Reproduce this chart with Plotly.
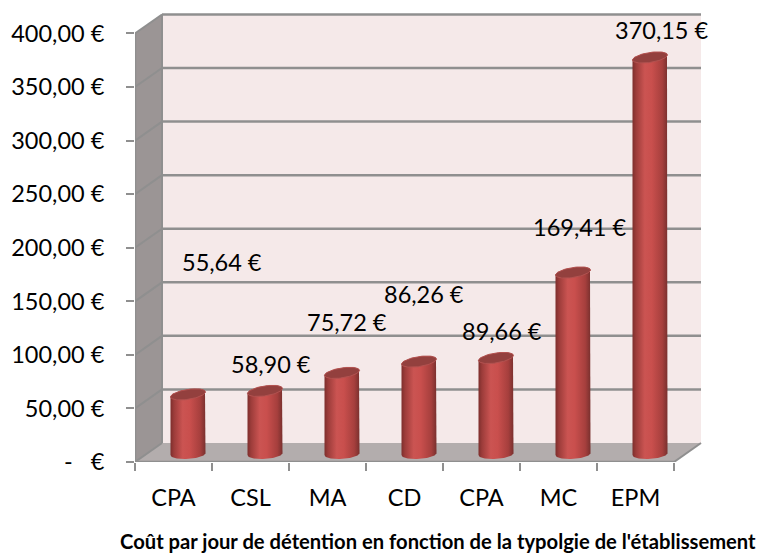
import numpy as np
import plotly.graph_objects as go

categories = ["CPA", "CSL", "MA", "CD", "CPA", "MC", "EPM"]
values = [55.64, 58.90, 75.72, 86.26, 89.66, 169.41, 370.15]
y_ticks = [0, 50, 100, 150, 200, 250, 300, 350, 400]
y_tick_labels = ["-\u00a0\u00a0\u00a0€", "50,00 €", "100,00 €", "150,00 €", "200,00 €",
                 "250,00 €", "300,00 €", "350,00 €", "400,00 €"]
title_text = "Coût par jour de détention en fonction de la typolgie de l'établissement"
# label centres, page pixels
label_px = [(222, 262), (271, 364), (347, 322), (424, 294), (502, 331), (580, 227), (662, 30)]

W, H = 758, 553
LEFT, RIGHT_PX, TOP, BOTTOM_PX = 135, 703, 10, 462
PX_X = 77.0          # pixels per category
PX_Y = 1.0713        # pixels per euro
GRID = "#8f8f8f"
FONT = "Lato"
FS = 23.5

dx = 27 / PX_X       # depth of the 3D box, in axis units
dy = 19 / PX_Y

x0 = -0.5
x1 = x0 + (RIGHT_PX - LEFT) / PX_X
y1 = (BOTTOM_PX - TOP) / PX_Y
n = len(categories)
xf = x0 + n


def poly(pts):
    return "M " + " L ".join(f"{a},{b}" for a, b in pts) + " Z"


def shape_line(a, b, c, d, width=2.5, color=GRID):
    return dict(type="line", xref="x", yref="y", x0=a, y0=b, x1=c, y1=d,
                line=dict(color=color, width=width), layer="below")


def shape_poly(pts, fill):
    return dict(type="path", xref="x", yref="y", path=poly(pts), fillcolor=fill,
                line=dict(width=0), layer="below")


shapes = [
    shape_poly([(x0 + dx, dy), (x0 + dx, 400 + dy), (xf + dx, 400 + dy), (xf + dx, dy)], "#f5e9e9"),
    shape_poly([(x0, 0), (x0, 400), (x0 + dx, 400 + dy), (x0 + dx, dy)], "#9b9595"),
    shape_poly([(x0, 0), (x0 + dx, dy), (xf + dx, dy), (xf, 0)], "#b3adad"),
]
for t in y_ticks:
    if t > 0:
        shapes.append(shape_line(x0 + dx, t + dy, xf + dx, t + dy))
    shapes.append(shape_line(x0, t, x0 + dx, t + dy, width=2))
shapes += [
    shape_line(x0 + dx, dy, x0 + dx, 400 + dy, width=2),
    shape_line(xf, 0, xf + dx, dy, width=2),
    shape_line(x0, 0, x0, 400, width=2.5),
    shape_line(x0, 0, xf, 0, width=2.5),
]

fig = go.Figure()

radius = 17.5 / PX_X
center_shift = 14.5 / PX_X
base_y = 8 / PX_Y
low_b, low_tilt = 5.0 / PX_Y, 1.0 / PX_Y
top_b, top_tilt = 5.0 / PX_Y, 2.5 / PX_Y
body_scale = [[0, "#7d2e2c"], [0.1, "#9c3c3a"], [0.35, "#cb5452"], [0.55, "#c94f4d"],
              [0.85, "#a63f3d"], [1, "#79302e"]]

for i, v in enumerate(values):
    xc = i + center_shift
    ytop = base_y + v
    # lower arc left -> right, then up the right edge, over the top back to the left
    ta = np.linspace(np.pi, 0, 40)
    xa = xc + radius * np.cos(ta)
    ya = base_y - low_b * np.sin(ta) + low_tilt * np.cos(ta)
    tb = np.linspace(0, np.pi, 40)
    xb = xc + radius * np.cos(tb)
    yb = ytop + top_b * np.sin(tb) + top_tilt * np.cos(tb)
    fig.add_trace(go.Scatter(
        x=np.r_[xa, xb], y=np.r_[ya, yb], mode="lines", fill="toself",
        line=dict(width=0), fillgradient=dict(type="horizontal", colorscale=body_scale),
        showlegend=False, hoverinfo="skip"))
    tc = np.linspace(0, 2 * np.pi, 80)
    fig.add_trace(go.Scatter(
        x=xc + radius * np.cos(tc),
        y=ytop + top_b * np.sin(tc) + top_tilt * np.cos(tc),
        mode="lines", fill="toself", fillcolor="#93403e",
        line=dict(width=1, color="#b25250"),
        showlegend=False, hoverinfo="skip"))

annotations = [
    dict(text=f"{v:.2f}".replace(".", ",") + " €", xref="paper", yref="paper",
         x=(px - LEFT) / (RIGHT_PX - LEFT), y=(BOTTOM_PX - py) / (BOTTOM_PX - TOP),
         xanchor="center", yanchor="middle", showarrow=False,
         font=dict(family=FONT, size=FS, color="#000000"))
    for v, (px, py) in zip(values, label_px)
]
annotations.append(dict(
    text=f"<b>{title_text}</b>", xref="paper", yref="paper",
    x=(438 - LEFT) / (RIGHT_PX - LEFT), y=(BOTTOM_PX - 541) / (BOTTOM_PX - TOP),
    xanchor="center", yanchor="middle", showarrow=False,
    font=dict(family=FONT, size=20.2, color="#000000")))

fig.update_layout(
    template="none", width=W, height=H,
    margin=dict(l=LEFT, r=W - RIGHT_PX, t=TOP, b=H - BOTTOM_PX, pad=0),
    paper_bgcolor="#ffffff", plot_bgcolor="rgba(0,0,0,0)",
    font=dict(family=FONT, size=FS, color="#000000"),
    showlegend=False, shapes=shapes, annotations=annotations,
    xaxis=dict(range=[x0, x1], tickmode="array", tickvals=list(range(n)), ticktext=categories,
               ticks="", showgrid=False, zeroline=False, showline=False, automargin=False,
               ticklabelstandoff=19, tickfont=dict(family=FONT, size=FS),
               minor=dict(tickmode="array", tickvals=[x0 + k for k in range(n + 1)],
                          ticks="outside", ticklen=8, tickwidth=2, tickcolor=GRID, showgrid=False)),
    yaxis=dict(range=[0, y1], tickmode="array", tickvals=y_ticks, ticktext=y_tick_labels,
               ticks="outside", ticklen=8, tickwidth=2, tickcolor=GRID, showgrid=False,
               zeroline=False, showline=False, automargin=False, ticklabelstandoff=17,
               tickfont=dict(family=FONT, size=FS)),
)

fig.write_html("out.html", post_script="document.body.style.margin='0';",
               config=dict(displayModeBar=False))
